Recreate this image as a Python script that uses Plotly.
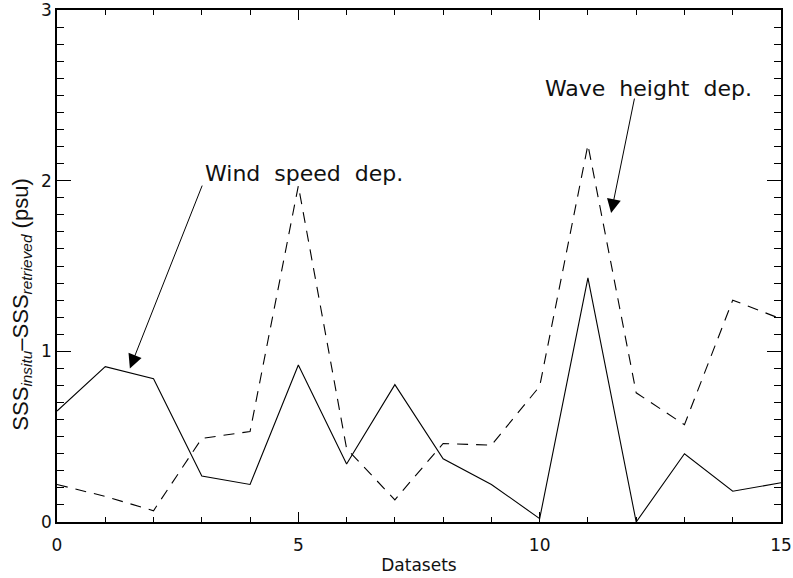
import plotly.graph_objects as go

datasets = list(range(16))
solid_vals = [0.65, 0.91, 0.84, 0.27, 0.22, 0.92, 0.34, 0.805, 0.37, 0.22, 0.02, 1.43, 0.0, 0.40, 0.18, 0.23]
dashed_vals = [0.22, 0.15, 0.066, 0.49, 0.53, 1.97, 0.43, 0.13, 0.46, 0.45, 0.795, 2.21, 0.757, 0.57, 1.30, 1.19]
x_ticks = [0, 5, 10, 15]
y_ticks = [0, 1, 2, 3]

wind_label = "Wind\u00a0 speed\u00a0 dep."
wave_label = "Wave\u00a0 height\u00a0 dep."
wind_tip, wind_tail = (1.51, 0.90), (3.02, 1.98)
wave_tip, wave_tail = (11.48, 1.81), (11.97, 2.49)

fig = go.Figure()
fig.add_trace(go.Scatter(x=datasets, y=solid_vals, mode="lines",
                         line=dict(color="black", width=1.1), showlegend=False))
fig.add_trace(go.Scatter(x=datasets, y=dashed_vals, mode="lines",
                         line=dict(color="black", width=1.1, dash="11px,8px"), showlegend=False))

tickfont = dict(family="DejaVu Sans", size=17, color="#111")
fig.update_xaxes(range=[0, 15], tickvals=x_ticks, ticks="inside", ticklen=10, tickwidth=1,
                 tickcolor="black", showline=True, linecolor="black", linewidth=1.5,
                 mirror="ticks", showgrid=False, zeroline=False, tickfont=tickfont,
                 automargin=False, ticklabelstandoff=7, ticklabeloverflow="allow",
                 minor=dict(dtick=1, ticks="inside", ticklen=5, tickcolor="black", showgrid=False),
                 title=dict(text="Datasets", font=dict(family="DejaVu Sans", size=17, color="#111"), standoff=5))
fig.update_yaxes(range=[0, 3], tickvals=y_ticks, ticks="inside", ticklen=14, tickwidth=1,
                 tickcolor="black", showline=True, linecolor="black", linewidth=1.5,
                 mirror="ticks", showgrid=False, zeroline=False, tickfont=tickfont,
                 automargin=False, ticklabeloverflow="allow",
                 minor=dict(dtick=0.1, ticks="inside", ticklen=7, tickcolor="black", showgrid=False))

fig.add_annotation(x=wind_tip[0], y=wind_tip[1], ax=wind_tail[0], ay=wind_tail[1],
                   xref="x", yref="y", axref="x", ayref="y", text="", showarrow=True,
                   arrowhead=2, arrowsize=2.8, arrowwidth=1, arrowcolor="black")
fig.add_annotation(x=wave_tip[0], y=wave_tip[1], ax=wave_tail[0], ay=wave_tail[1],
                   xref="x", yref="y", axref="x", ayref="y", text="", showarrow=True,
                   arrowhead=2, arrowsize=2.8, arrowwidth=1, arrowcolor="black")
fig.add_annotation(x=3.02, y=2.04, xref="x", yref="y", text=wind_label, showarrow=False,
                   xanchor="left", yanchor="middle",
                   font=dict(family="DejaVu Sans", size=22, color="#111"))
fig.add_annotation(x=10.07, y=2.54, xref="x", yref="y", text=wave_label, showarrow=False,
                   xanchor="left", yanchor="middle",
                   font=dict(family="DejaVu Sans", size=22, color="#111"))
fig.add_annotation(x=-0.048, y=0.425, xref="paper", yref="paper",
                   text="SSS<sub><i>insitu</i></sub>\u2013SSS<sub><i>retrieved</i></sub> (psu)",
                   textangle=-90, showarrow=False, xanchor="center", yanchor="middle",
                   font=dict(family="Liberation Sans", size=22, color="#111"))

fig.update_layout(width=793, height=578, margin=dict(l=57, r=12, t=10, b=56, autoexpand=False),
                  plot_bgcolor="white", paper_bgcolor="white")
fig.write_html("out.html", config={"displayModeBar": False},
               post_script="document.body.style.margin='0';")
